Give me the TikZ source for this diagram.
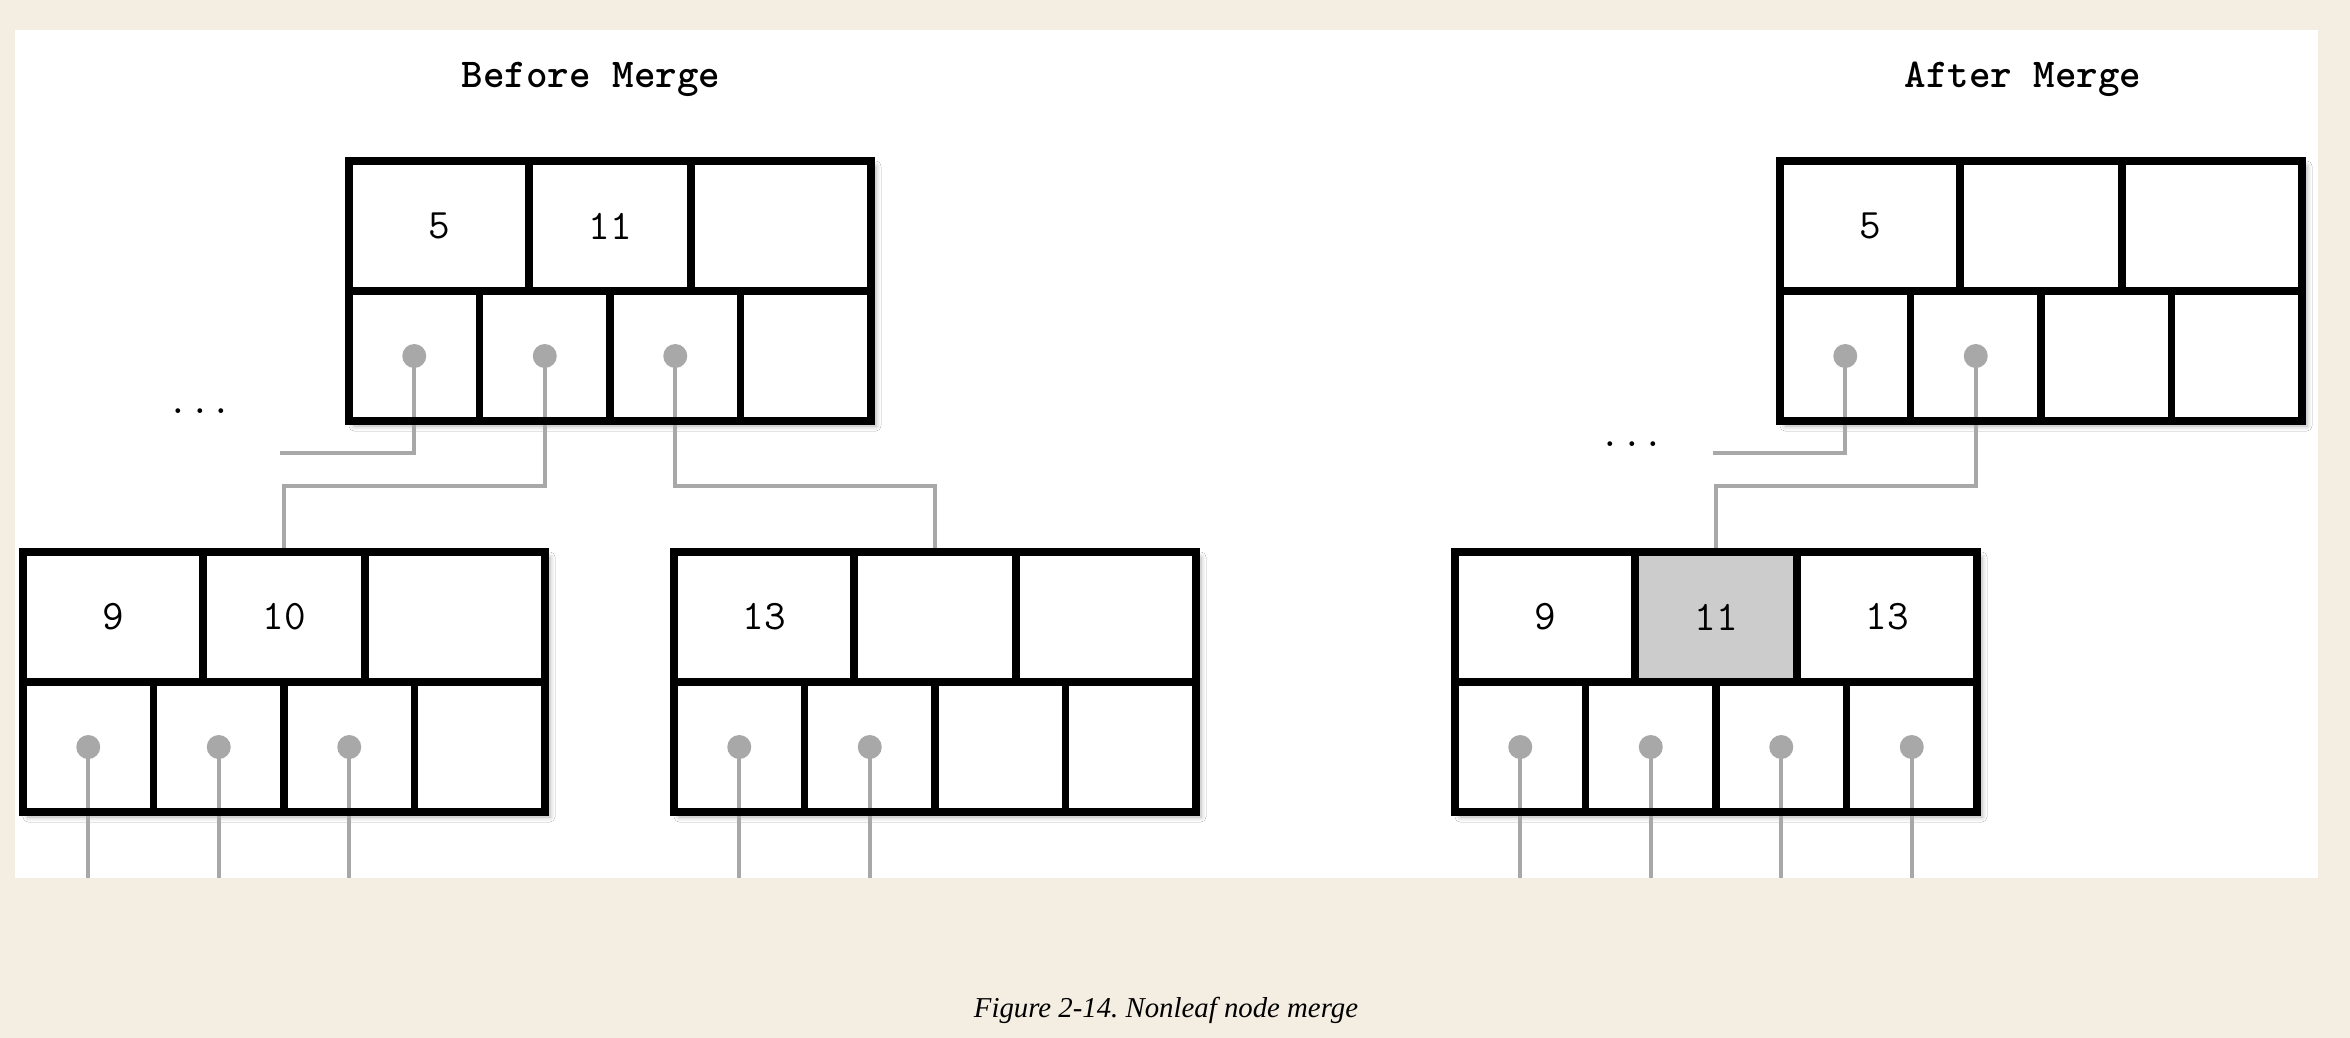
\documentclass[tikz,border=0pt]{standalone}
\usepackage{fontspec}
\setmainfont{Liberation Serif}
\newfontfamily\titlefont{lmmonolt10-bold.otf}
\usetikzlibrary{backgrounds,fit,positioning,shadows.blur}
\definecolor{paper}{RGB}{244,237,225}
\definecolor{ptrgray}{RGB}{168,168,168}
\definecolor{hlgray}{RGB}{204,204,204}

\begin{document}
\begin{tikzpicture}[x=0.5pt,y=-0.5pt]
 	\tikzstyle{cell}=[rectangle, draw=black, line width=3.6pt, minimum height=65pt, inner sep=0pt, outer sep=0pt, font=\ttfamily\fontsize{21}{24}\selectfont]
 	\tikzstyle{key}=[cell, minimum width=90pt]
 	\tikzstyle{midkey}=[cell, minimum width=81pt]
 	\tikzstyle{ptr}=[cell, minimum width=65.25pt]
 	\tikzstyle{dot}=[circle, fill=ptrgray, inner sep=0pt, minimum size=12pt]
 	\tikzstyle{connect}=[draw=ptrgray, line width=2pt]
 	\tikzstyle{heading}=[anchor=base, font=\titlefont\fontsize{20.5}{24}\selectfont]
 	\tikzstyle{more}=[anchor=base, font=\ttfamily\fontsize{21}{24}\selectfont]
 	\tikzstyle{boxshadow}=[rectangle, inner sep=0pt, fill=white, blur shadow={shadow xshift=2.5pt, shadow yshift=-2.5pt, shadow blur radius=2.5pt, shadow blur steps=6, shadow opacity=30}]
 	\useasboundingbox (0,0) rectangle (2350,1038);
 	\begin{pgfonlayer}{background}
 	\fill[paper] (0,0) rectangle (2350,1038);
 	\fill[white] (15,30) rectangle (2318,878);
 	\end{pgfonlayer}
 	\coordinate (floor) at (0,878);
 	\coordinate (rend) at (280,453);
 	\coordinate (cend) at (1713,453);
 	% before merge
 	\node[heading] (before) at (591,88) {Before Merge};
 	\node[key, anchor=north west] (r5) at (349,161) {5};
 	\node[midkey, right=0pt of r5] (r11) {11};
 	\node[key, right=0pt of r11] (rk3) {};
 	\node[ptr, below=0pt of r5.south west, anchor=north west] (rp1) {};
 	\node[ptr, right=0pt of rp1] (rp2) {};
 	\node[ptr, right=0pt of rp2] (rp3) {};
 	\node[ptr, right=0pt of rp3] (rp4) {};
 	\node[more] (rskip) at (200,413) {...};
 		\node[key, anchor=north west] (a9) at (23,552) {9};
 		\node[midkey, right=0pt of a9] (a10) {10};
 		\node[key, right=0pt of a10] (ak3) {};
 		\node[ptr, below=0pt of a9.south west, anchor=north west] (ap1) {};
 		\node[ptr, right=0pt of ap1] (ap2) {};
 		\node[ptr, right=0pt of ap2] (ap3) {};
 		\node[ptr, right=0pt of ap3] (ap4) {};
 		\node[key, anchor=north west] (b13) at (674,552) {13};
 		\node[midkey, right=0pt of b13] (bk2) {};
 		\node[key, right=0pt of bk2] (bk3) {};
 		\node[ptr, below=0pt of b13.south west, anchor=north west] (bp1) {};
 		\node[ptr, right=0pt of bp1] (bp2) {};
 		\node[ptr, right=0pt of bp2] (bp3) {};
 		\node[ptr, right=0pt of bp3] (bp4) {};
 	% after merge
 	\node[heading] (after) at (2023,88) {After Merge};
 	\node[key, anchor=north west] (c5) at (1780,161) {5};
 	\node[midkey, right=0pt of c5] (ck2) {};
 	\node[key, right=0pt of ck2] (ck3) {};
 	\node[ptr, below=0pt of c5.south west, anchor=north west] (cp1) {};
 	\node[ptr, right=0pt of cp1] (cp2) {};
 	\node[ptr, right=0pt of cp2] (cp3) {};
 	\node[ptr, right=0pt of cp3] (cp4) {};
 	\node[more] (cskip) at (1632,446) {...};
 		\node[key, anchor=north west] (m9) at (1455,552) {9};
 		\node[midkey, fill=hlgray, right=0pt of m9] (m11) {11};
 		\node[key, right=0pt of m11] (m13) {13};
 		\node[ptr, below=0pt of m9.south west, anchor=north west] (mp1) {};
 		\node[ptr, right=0pt of mp1] (mp2) {};
 		\node[ptr, right=0pt of mp2] (mp3) {};
 		\node[ptr, right=0pt of mp3] (mp4) {};
 	% pointers
 	\node[dot] (rd1) at (rp1) {};
 	\node[dot] (rd2) at (rp2) {};
 	\node[dot] (rd3) at (rp3) {};
 	\node[dot] (ad1) at (ap1) {};
 	\node[dot] (ad2) at (ap2) {};
 	\node[dot] (ad3) at (ap3) {};
 	\node[dot] (bd1) at (bp1) {};
 	\node[dot] (bd2) at (bp2) {};
 	\node[dot] (cd1) at (cp1) {};
 	\node[dot] (cd2) at (cp2) {};
 	\node[dot] (md1) at (mp1) {};
 	\node[dot] (md2) at (mp2) {};
 	\node[dot] (md3) at (mp3) {};
 	\node[dot] (md4) at (mp4) {};
 	\node[font=\itshape\frenchspacing\fontsize{14.4}{17}\selectfont, anchor=base] (caption) at (1166,1017) {Figure 2-14. Nonleaf node merge};
 	\begin{pgfonlayer}{background}
 	\node[boxshadow, fit=(r5)(rp4)] {};
 	\node[boxshadow, fit=(a9)(ap4)] {};
 	\node[boxshadow, fit=(b13)(bp4)] {};
 	\node[boxshadow, fit=(c5)(cp4)] {};
 	\node[boxshadow, fit=(m9)(mp4)] {};
 	\draw[connect] (rd1.center) |- (rend);
 	\draw[connect] (rd2.center) |- ([yshift=33pt]a10.north) -- (a10.north);
 	\draw[connect] (rd3.center) |- ([yshift=33pt]bk2.north) -- (bk2.north);
 	\draw[connect] (cd1.center) |- (cend);
 	\draw[connect] (cd2.center) |- ([yshift=33pt]m11.north) -- (m11.north);
 	\path (ad1.center) edge [connect] (ad1.center |- floor)
 	(ad2.center) edge [connect] (ad2.center |- floor)
 	(ad3.center) edge [connect] (ad3.center |- floor)
 	(bd1.center) edge [connect] (bd1.center |- floor)
 	(bd2.center) edge [connect] (bd2.center |- floor)
 	(md1.center) edge [connect] (md1.center |- floor)
 	(md2.center) edge [connect] (md2.center |- floor)
 	(md3.center) edge [connect] (md3.center |- floor)
 	(md4.center) edge [connect] (md4.center |- floor);
 	\end{pgfonlayer}
 	\end{tikzpicture}
\end{document}
